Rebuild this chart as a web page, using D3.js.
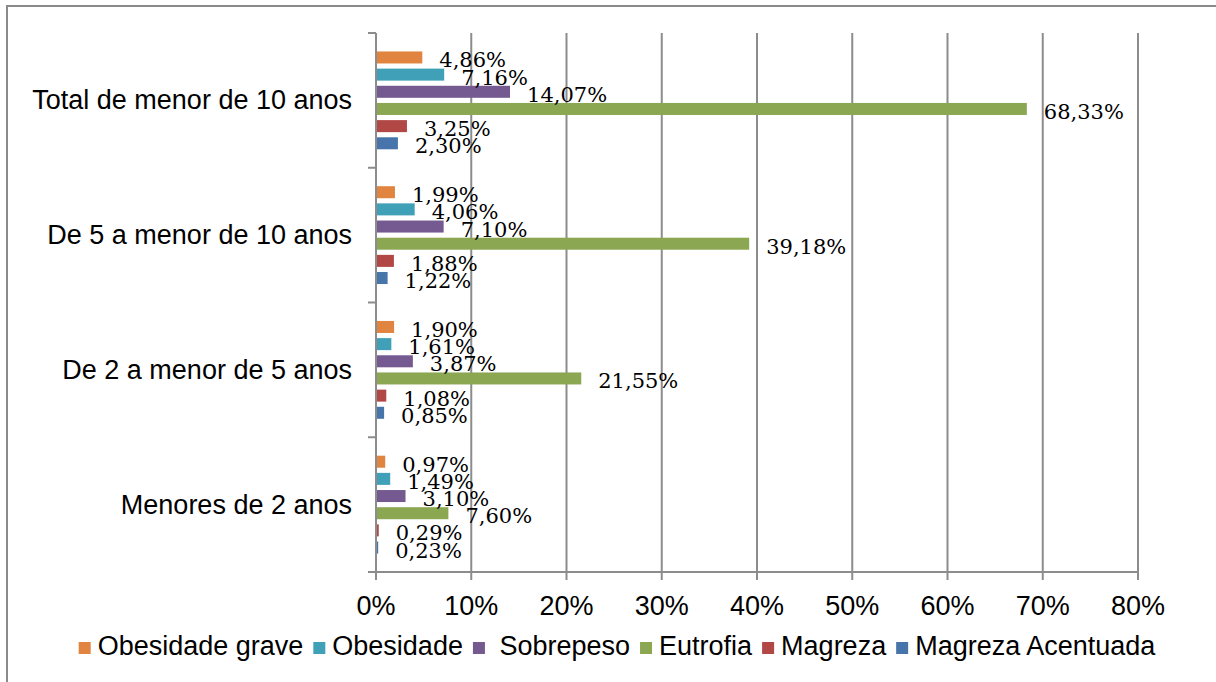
<!DOCTYPE html>
<html>
<head>
<meta charset="utf-8">
<script src="https://cdn.jsdelivr.net/npm/d3@7"></script>
<style>
  body { margin: 0; background: #fff; }
  svg { display: block; }
</style>
</head>
<body>
<svg id="chart" width="1216" height="682"></svg>
<script>
// categories, top to bottom
const categories = ["Total de menor de 10 anos", "De 5 a menor de 10 anos", "De 2 a menor de 5 anos", "Menores de 2 anos"];
// series, top to bottom inside each group
const seriesNames = ["Obesidade grave", "Obesidade", " Sobrepeso", "Eutrofia", "Magreza", "Magreza Acentuada"];
const seriesColors = ["#E0843F", "#40A0B8", "#745A91", "#8CA752", "#B14846", "#4774AA"];

// values in %, one array per category (same order as seriesNames)
const totalMenor10 = [4.86, 7.16, 14.07, 68.33, 3.25, 2.30];
const de5a10 = [1.99, 4.06, 7.10, 39.18, 1.88, 1.22];
const de2a5 = [1.90, 1.61, 3.87, 21.55, 1.08, 0.85];
const menores2 = [0.97, 1.49, 3.10, 7.60, 0.29, 0.23];
const values = [totalMenor10, de5a10, de2a5, menores2];

const xTicks = [0, 10, 20, 30, 40, 50, 60, 70, 80];

const svg = d3.select("#chart");
const grid = "#8c8c8c";
const sans = "Liberation Sans, Arial, sans-serif";

// outer frame of the chart area
svg.append("rect")
    .attr("x", 7).attr("y", 6)
    .attr("width", 1300).attr("height", 800)
    .attr("fill", "none")
    .attr("stroke", "#8a8a8a")
    .attr("stroke-width", 2);

const x = d3.scaleLinear().domain([0, 80]).range([376, 1138]);
const y = d3.scaleBand().domain(categories).range([33, 572]);
const inner = d3.scaleBand().domain(seriesNames)
    .range([0, y.bandwidth()])
    .paddingInner(0.3)
    .paddingOuter(1.075);

// vertical gridlines
svg.append("g").selectAll("line")
    .data(xTicks.slice(1))
    .join("line")
    .attr("x1", d => x(d)).attr("x2", d => x(d))
    .attr("y1", 33).attr("y2", 572)
    .attr("stroke", grid).attr("stroke-width", 2);

// bars
const groups = svg.append("g").selectAll("g")
    .data(categories)
    .join("g")
    .attr("transform", c => `translate(0,${y(c)})`);

groups.selectAll("rect")
    .data((c, i) => values[i].map((v, j) => ({ name: seriesNames[j], v: v, color: seriesColors[j] })))
    .join("rect")
    .attr("x", x(0))
    .attr("y", d => inner(d.name))
    .attr("width", d => x(d.v) - x(0))
    .attr("height", inner.bandwidth())
    .attr("fill", d => d.color);

// data labels
groups.selectAll("text")
    .data((c, i) => values[i].map((v, j) => ({ name: seriesNames[j], v: v })))
    .join("text")
    .attr("x", d => x(d.v) + 17)
    .attr("y", d => inner(d.name) + inner.bandwidth() / 2 + 10)
    .attr("font-family", "DejaVu Serif")
    .attr("font-size", 21)
    .attr("fill", "#000")
    .text(d => d3.format(".2f")(d.v).replace(".", ",") + "%");

// y axis (ticks between categories)
const yAxis = svg.append("g");
yAxis.append("line")
    .attr("x1", 376).attr("x2", 376)
    .attr("y1", 33).attr("y2", 580)
    .attr("stroke", grid).attr("stroke-width", 2);
yAxis.selectAll("line.tick")
    .data(categories.map(c => y(c)).concat([y.range()[1]]))
    .join("line")
    .attr("class", "tick")
    .attr("x1", 368).attr("x2", 376)
    .attr("y1", d => d).attr("y2", d => d)
    .attr("stroke", grid).attr("stroke-width", 2);
yAxis.selectAll("text")
    .data(categories)
    .join("text")
    .attr("x", 352)
    .attr("y", c => y(c) + y.bandwidth() / 2 + 9)
    .attr("text-anchor", "end")
    .attr("font-family", sans)
    .attr("font-size", 27)
    .text(c => c);

// x axis
const xAxis = svg.append("g");
xAxis.append("line")
    .attr("x1", 368).attr("x2", 1138)
    .attr("y1", 572).attr("y2", 572)
    .attr("stroke", grid).attr("stroke-width", 2);
xAxis.selectAll("line.tick")
    .data(xTicks)
    .join("line")
    .attr("class", "tick")
    .attr("x1", d => x(d)).attr("x2", d => x(d))
    .attr("y1", 572).attr("y2", 580)
    .attr("stroke", grid).attr("stroke-width", 2);
xAxis.selectAll("text")
    .data(xTicks)
    .join("text")
    .attr("x", d => x(d))
    .attr("y", 615)
    .attr("text-anchor", "middle")
    .attr("font-family", sans)
    .attr("font-size", 27)
    .text(d => d + "%");

// legend
const legend = svg.append("g");
let lx = 0;
seriesNames.forEach((name, i) => {
    const item = legend.append("g");
    item.append("rect")
        .attr("x", lx).attr("y", -13)
        .attr("width", 12).attr("height", 12)
        .attr("fill", seriesColors[i]);
    const t = item.append("text")
        .attr("x", lx + 19)
        .attr("y", 0)
        .attr("font-family", sans)
        .attr("font-size", 27)
        .style("white-space", "pre")
        .text(name);
    lx += 19 + t.node().getComputedTextLength() + 10;
});
const legendWidth = lx - 10;
legend.attr("transform", `translate(${617 - legendWidth / 2},655)`);
</script>
</body>
</html>
